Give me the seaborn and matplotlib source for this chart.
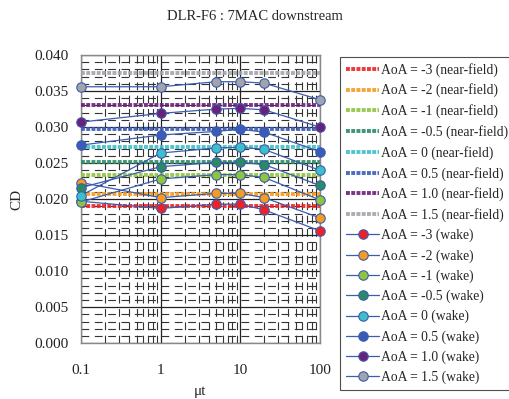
import numpy as np
import pandas as pd
import matplotlib
matplotlib.use("Agg")
import matplotlib.pyplot as plt
from matplotlib.lines import Line2D
from matplotlib.ticker import FixedLocator, FixedFormatter, MultipleLocator
import seaborn as sns

sns.set_theme(style="white")
plt.rcParams['font.family'] = ['Liberation Serif', 'DejaVu Serif']

aoa_labels = ["-3", "-2", "-1", "-0.5", "0", "0.5", "1.0", "1.5"]
colors = ["#ec2227", "#f39b22", "#8fc43f", "#2b8a66", "#3dbfc9", "#3a5cb8", "#6b1f78", "#a3a3ab"]

# near-field CD per angle of attack
near_field = [0.0190, 0.0207, 0.0234, 0.0251, 0.0273, 0.0298, 0.0330, 0.0375]

# wake-integrated CD versus mu_t
mu_t = [0.1, 1, 5, 10, 20, 100]
wake_m3 = [0.0197, 0.0187, 0.0193, 0.0193, 0.0185, 0.0156]
wake_m2 = [0.0223, 0.0202, 0.0208, 0.0208, 0.0202, 0.0174]
wake_m1 = [0.0196, 0.0228, 0.0234, 0.0234, 0.0230, 0.0199]
wake_m05 = [0.0216, 0.0245, 0.0251, 0.0251, 0.0248, 0.0219]
wake_0 = [0.0205, 0.0264, 0.0271, 0.0272, 0.0269, 0.0240]
wake_05 = [0.0275, 0.0289, 0.0294, 0.0297, 0.0293, 0.0266]
wake_10 = [0.0307, 0.0319, 0.0325, 0.0326, 0.0324, 0.0300]
wake_15 = [0.0356, 0.0356, 0.0363, 0.0363, 0.0361, 0.0338]
wake = [wake_m3, wake_m2, wake_m1, wake_m05, wake_0, wake_05, wake_10, wake_15]

x_ticks = [0.1, 1, 10, 100]
x_tick_labels = ["0.1", "1", "10", "100"]

line_blue = "#3b5cb0"

fig = plt.figure(figsize=(5.10, 3.99), dpi=100)
ax = fig.add_axes([0.159, 0.140, 0.468, 0.722])
ax.set_xscale("log")

near_df = pd.DataFrame({
    "mu_t": np.tile([0.1, 100], len(aoa_labels)),
    "CD": np.repeat(near_field, 2),
    "AoA": np.repeat(aoa_labels, 2),
})
wake_df = pd.DataFrame({
    "mu_t": np.tile(mu_t, len(aoa_labels)),
    "CD": np.concatenate(wake),
    "AoA": np.repeat(aoa_labels, len(mu_t)),
})

near_style = dict(lw=2.8, linestyle=(0, (1.0, 0.35)), alpha=0.9)
wake_style = dict(lw=0.9, marker="o", markersize=6.8, markeredgewidth=0.8)

for lab, col in zip(aoa_labels, colors):
    sub = near_df[near_df["AoA"] == lab]
    sns.lineplot(data=sub, x="mu_t", y="CD", ax=ax, color=col,
                 legend=False, zorder=3, **near_style)

for lab, col in zip(aoa_labels, colors):
    sub = wake_df[wake_df["AoA"] == lab]
    sns.lineplot(data=sub, x="mu_t", y="CD", ax=ax, color=line_blue,
                 markerfacecolor=col, markeredgecolor=line_blue,
                 legend=False, zorder=4, clip_on=False, **wake_style)

ax.set_xlim(0.1, 100)
ax.set_ylim(0.0, 0.040)
ax.xaxis.set_major_locator(FixedLocator(x_ticks))
ax.xaxis.set_major_formatter(FixedFormatter(x_tick_labels))
ax.xaxis.set_minor_locator(FixedLocator(
    [m * d for d in (0.1, 1, 10) for m in range(2, 10)]))
ax.xaxis.set_minor_formatter(FixedFormatter([]))
ax.yaxis.set_major_locator(MultipleLocator(0.005))
ax.yaxis.set_minor_locator(MultipleLocator(0.001))
ax.yaxis.set_major_formatter(matplotlib.ticker.FormatStrFormatter("%.3f"))

ax.grid(which="major", color="#222222", lw=0.9, ls="-", zorder=0)
ax.grid(which="minor", color="#333333", lw=0.8, ls=(0, (7, 5)), zorder=0)
ax.set_axisbelow(True)
for s in ax.spines.values():
    s.set_color("#888888")
    s.set_linewidth(1.0)

ax.tick_params(axis="both", which="both", length=0, labelsize=11, colors="#222222")
ax.tick_params(axis="x", pad=15)
ax.tick_params(axis="y", pad=9)
ax.set_xlabel("\u03bct", fontsize=11, labelpad=6)
ax.set_ylabel("CD", fontsize=11, labelpad=8)
fig.text(0.5, 0.958, "DLR-F6 : 7MAC downstream", ha="center", va="center", fontsize=10.5)

handles = []
labels = []
for lab, col in zip(aoa_labels, colors):
    handles.append(Line2D([], [], color=col, **near_style))
    labels.append(f"AoA = {lab} (near-field)")
for lab, col in zip(aoa_labels, colors):
    handles.append(Line2D([], [], color=line_blue, markerfacecolor=col,
                          markeredgecolor=line_blue, **wake_style))
    labels.append(f"AoA = {lab} (wake)")

leg = fig.legend(handles, labels, loc="upper left", bbox_to_anchor=(0.667, 0.858),
                 fontsize=9.8, frameon=True, fancybox=False, edgecolor="#222222",
                 handlelength=2.4, handletextpad=0.15, labelspacing=0.5,
                 borderpad=0.45, borderaxespad=0)
leg.get_frame().set_linewidth(0.8)

fig.savefig("out.png", dpi=100)
